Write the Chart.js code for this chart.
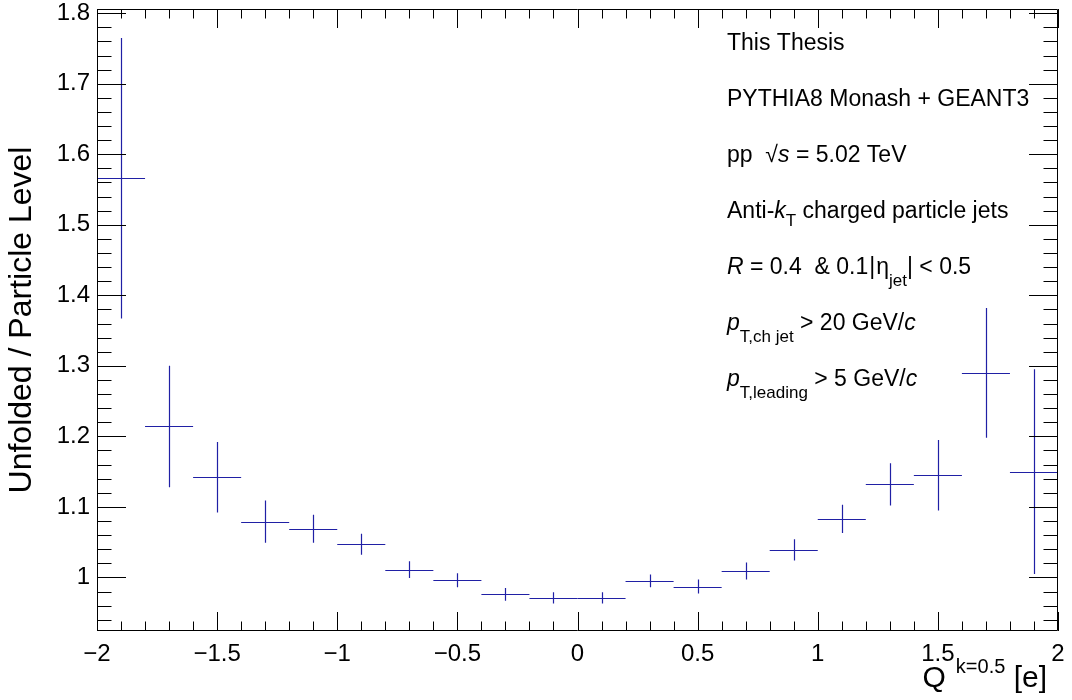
<!DOCTYPE html>
<html>
<head>
<meta charset="utf-8">
<title>Unfolded / Particle Level</title>
<script src="https://cdn.jsdelivr.net/npm/chart.js@4.4.1/dist/chart.umd.min.js"></script>
<style>
  html, body { margin: 0; padding: 0; background: #ffffff; }
  canvas { display: block; }
</style>
</head>
<body>
<canvas id="ratioChart" width="1072" height="700"></canvas>
<script>
// Q^{k=0.5} bins (width 0.2) and unfolded / particle-level ratio per bin
const binEdges = [-2.0, -1.8, -1.6, -1.4, -1.2, -1.0, -0.8, -0.6, -0.4, -0.2, 0.0,
                  0.2, 0.4, 0.6, 0.8, 1.0, 1.2, 1.4, 1.6, 1.8, 2.0];
const ratioValues = [1.566, 1.214, 1.142, 1.079, 1.069, 1.047, 1.011, 0.996, 0.976, 0.971,
                     0.971, 0.995, 0.987, 1.009, 1.039, 1.083, 1.132, 1.145, 1.290, 1.150];
const ratioErrors = [0.199, 0.086, 0.050, 0.030, 0.020, 0.015, 0.012, 0.010, 0.009, 0.008,
                     0.008, 0.009, 0.010, 0.012, 0.015, 0.020, 0.030, 0.050, 0.092, 0.145];

// axis ticks
const xTicks = [-2, -1.5, -1, -0.5, 0, 0.5, 1, 1.5, 2];
const yTicks = [1, 1.1, 1.2, 1.3, 1.4, 1.5, 1.6, 1.7, 1.8];

const FONT = "'Liberation Sans', Arial, Helvetica, sans-serif";
const LINE_COLOR = 'rgb(32, 32, 165)';

const binCenters = ratioValues.map((v, i) => (binEdges[i] + binEdges[i + 1]) / 2);

// ROOT-like frame with inward ticks on all four sides
const frameTicks = {
  id: 'frameTicks',
  afterDraw(chart) {
    const { ctx, chartArea: a, scales } = chart;
    const xs = scales.x, ys = scales.y;
    ctx.save();
    ctx.strokeStyle = '#000';
    ctx.lineWidth = 1;
    ctx.beginPath();
    ctx.rect(Math.round(a.left) + 0.5, Math.round(a.top) + 0.5,
             Math.round(a.right - a.left) - 1, Math.round(a.bottom - a.top) - 1);
    ctx.stroke();

    const xMinor = (xTicks[1] - xTicks[0]) / 5;
    for (let v = xs.min; v <= xs.max + 1e-9; v += xMinor) {
      const val = Math.round(v * 1000) / 1000;
      const major = xTicks.some(t => Math.abs(t - val) < 1e-6);
      const len = major ? 19 : 9.5;
      const px = Math.round(xs.getPixelForValue(val)) + 0.5;
      ctx.beginPath();
      ctx.moveTo(px, a.bottom); ctx.lineTo(px, a.bottom - len);
      ctx.moveTo(px, a.top); ctx.lineTo(px, a.top + len);
      ctx.stroke();
    }

    const yMinor = (yTicks[1] - yTicks[0]) / 5;
    const yStart = Math.ceil(ys.min / yMinor - 1e-6) * yMinor;
    for (let v = yStart; v <= ys.max + 1e-9; v += yMinor) {
      const val = Math.round(v * 1000) / 1000;
      const major = yTicks.some(t => Math.abs(t - val) < 1e-6);
      const len = major ? 29 : 14.5;
      const py = Math.round(ys.getPixelForValue(val)) + 0.5;
      ctx.beginPath();
      ctx.moveTo(a.left, py); ctx.lineTo(a.left + len, py);
      ctx.moveTo(a.right, py); ctx.lineTo(a.right - len, py);
      ctx.stroke();
    }
    ctx.restore();
  }
};

// horizontal bar = bin width, vertical bar = statistical error
const binErrorBars = {
  id: 'binErrorBars',
  afterDatasetsDraw(chart) {
    const { ctx, scales } = chart;
    const xs = scales.x, ys = scales.y;
    ctx.save();
    ctx.strokeStyle = LINE_COLOR;
    ctx.lineWidth = 1.2;
    ratioValues.forEach((v, i) => {
      const x0 = xs.getPixelForValue(binEdges[i]);
      const x1 = xs.getPixelForValue(binEdges[i + 1]);
      const xc = Math.round(xs.getPixelForValue(binCenters[i])) + 0.5;
      const yc = Math.round(ys.getPixelForValue(v)) + 0.5;
      const yTop = ys.getPixelForValue(v + ratioErrors[i]);
      const yBot = ys.getPixelForValue(v - ratioErrors[i]);
      ctx.beginPath();
      ctx.moveTo(x0, yc); ctx.lineTo(x1, yc);
      ctx.moveTo(xc, yTop); ctx.lineTo(xc, yBot);
      ctx.stroke();
    });
    ctx.restore();
  }
};

// draws a line of mixed text: italic, sub/superscripts
function drawRich(ctx, x, y, parts, size) {
  let cx = x;
  parts.forEach(p => {
    const small = p.sub || p.sup;
    const s = p.size || (small ? Math.round(size * 0.72) : size);
    ctx.font = (p.it ? 'italic ' : '') + s + 'px ' + FONT;
    let dy = 0;
    if (p.sub) dy = size * (p.dy !== undefined ? p.dy : 0.52);
    if (p.sup) dy = -size * (p.dy !== undefined ? p.dy : 0.5);
    if (p.dyPx) dy = p.dyPx;
    ctx.fillText(p.t, cx + (p.dx || 0), y + dy);
    cx += ctx.measureText(p.t).width + (p.dx || 0);
  });
  return cx - x;
}

const infoLines = [
  [{ t: 'This Thesis' }],
  [{ t: 'PYTHIA8 Monash + GEANT3' }],
  [{ t: 'pp  \u221A' }, { t: 's', it: true }, { t: ' = 5.02 TeV' }],
  [{ t: 'Anti-' }, { t: 'k', it: true }, { t: 'T', sub: true, dy: 0.35 }, { t: ' charged particle jets' }],
  [{ t: 'R', it: true }, { t: ' = 0.4  & 0.1' }, { t: '|', dx: 1 }, { t: '\u03B7', dx: 1 },
   { t: 'jet', sub: true }, { t: '|' }, { t: ' < 0.5' }],
  [{ t: 'p', it: true }, { t: 'T,ch jet', sub: true }, { t: ' > 20 GeV/' }, { t: 'c', it: true }],
  [{ t: 'p', it: true }, { t: 'T,leading', sub: true }, { t: ' > 5 GeV/' }, { t: 'c', it: true }]
];

const annotations = {
  id: 'annotations',
  afterDraw(chart) {
    const { ctx, chartArea: a } = chart;
    ctx.save();
    ctx.fillStyle = '#000';
    ctx.textBaseline = 'alphabetic';
    ctx.textAlign = 'left';
    infoLines.forEach((parts, i) => drawRich(ctx, 727, 50 + i * 56, parts, 23));

    // x-axis title: Q^{k=0.5} [e], right aligned
    const parts = [{ t: 'Q' }, { t: 'k=0.5', sup: true, size: 20, dx: 10, dyPx: -14 }, { t: ' [e]' }];
    ctx.globalAlpha = 0;
    const w = drawRich(ctx, 0, -100, parts, 30);
    ctx.globalAlpha = 1;
    drawRich(ctx, a.right - 11 - w, 687, parts, 30);
    ctx.restore();
  }
};

const fmtTick = v => String(v).replace('-', '\u2212');

const ctx = document.getElementById('ratioChart').getContext('2d');
new Chart(ctx, {
  type: 'scatter',
  data: {
    datasets: [{
      label: 'Unfolded / Particle Level',
      data: binCenters.map((x, i) => ({ x: x, y: ratioValues[i] })),
      pointRadius: 0,
      showLine: false
    }]
  },
  options: {
    responsive: false,
    animation: false,
    devicePixelRatio: 1,
    layout: { padding: { left: 0, right: 14, top: 9, bottom: 0 } },
    plugins: {
      legend: { display: false },
      tooltip: { enabled: false }
    },
    scales: {
      x: {
        type: 'linear',
        min: -2,
        max: 2,
        grid: { display: false, drawTicks: false },
        border: { display: false },
        afterBuildTicks: s => { s.ticks = xTicks.map(v => ({ value: v })); },
        afterFit: s => {
          s.height = 69;
          s.paddingLeft = 0; s.paddingRight = 0;
        },
        ticks: {
          color: '#000',
          padding: 9,
          maxRotation: 0,
          autoSkip: false,
          font: { family: FONT, size: 24 },
          callback: v => fmtTick(v)
        }
      },
      y: {
        type: 'linear',
        min: 0.924,
        max: 1.806,
        grid: { display: false, drawTicks: false },
        border: { display: false },
        afterBuildTicks: s => { s.ticks = yTicks.map(v => ({ value: v })); },
        afterFit: s => {
          s.width = 97;
          s.paddingTop = 0; s.paddingBottom = 0;
        },
        title: {
          display: true,
          text: 'Unfolded / Particle Level',
          color: '#000',
          font: { family: FONT, size: 32 },
          padding: { top: 3, bottom: 0 }
        },
        ticks: {
          color: '#000',
          padding: 7,
          autoSkip: false,
          font: { family: FONT, size: 24 },
          callback: v => fmtTick(v)
        }
      }
    }
  },
  plugins: [frameTicks, binErrorBars, annotations]
});
</script>
</body>
</html>
